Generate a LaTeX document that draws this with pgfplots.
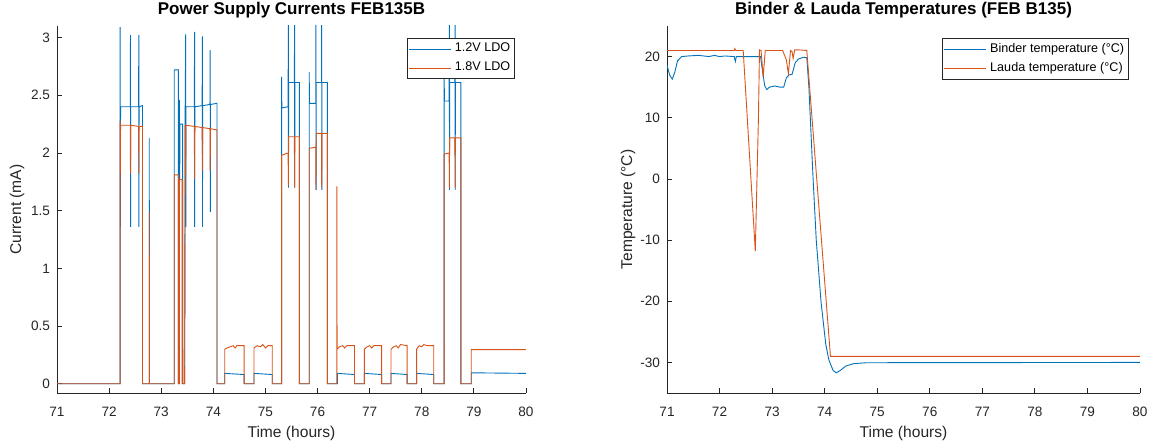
\documentclass[border=0pt]{standalone}
\usepackage{fontspec}
\setmainfont{Liberation Sans}
\usepackage{pgfplots}
\pgfplotsset{compat=1.18}
\definecolor{mblue}{HTML}{0072BD}
\definecolor{morange}{HTML}{D95319}
\definecolor{axgray}{HTML}{262626}

\pgfplotsset{
  mlab/.style={
    scale only axis,
    height=183.5pt,
    axis lines*=left,
    axis line style={axgray, line width=0.4pt},
    tick align=inside,
    major tick length=2.5pt,
    tick style={axgray, line width=0.4pt},
    xmin=71, xmax=80, xtick={71,...,80},
    tick label style={font=\fontsize{6.8}{8}\selectfont, text=axgray},
    xticklabel style={yshift=-3.5pt},
    /pgf/number format/assume math mode=true,
    label style={font=\fontsize{7.8}{9}\selectfont, text=axgray},
    every axis title shift=0pt,
    title style={font=\bfseries\fontsize{8.5}{10}\selectfont, text=black, at={(axis description cs:0.5,1.044)}, anchor=center},
    xlabel style={at={(axis description cs:0.5,-0.109)}, anchor=center},
    legend style={font=\fontsize{6.3}{7.5}\selectfont, draw=axgray, line width=0.4pt,
      anchor=north east, at={(0.977,0.967)}, inner sep=0.5pt, nodes={inner sep=1.8pt}},
    legend cell align=left,
    legend image code/.code={\draw[##1, line width=0.45pt] (0pt,0pt) -- (21pt,0pt);},
    xlabel={Time (hours)},
  }
}

\begin{document}
\begin{tikzpicture}
\useasboundingbox (0,0) rectangle (576pt,222.5pt);

% left: power supply currents
\begin{axis}[mlab, at={(28.5pt,26pt)}, anchor=south west, width=234.5pt,
  ymin=-0.08, ymax=3.1, ytick={0,0.5,1,1.5,2,2.5,3},
  ylabel={Current (mA)},
  ylabel style={at={(axis description cs:-0.085,0.5)}, anchor=center},
  title={Power Supply Currents FEB135B}]
\addplot[mblue, line width=0.45pt] coordinates {
(71,0) (72.21,0) (72.21,3.09) (72.215,1.36) (72.22,2.40) (72.405,2.40) (72.41,3.02) (72.412,1.36) (72.415,2.40)
(72.565,2.40) (72.57,3.02) (72.572,1.36) (72.575,2.40) (72.64,2.41) (72.64,0)
(72.77,0) (72.77,2.13) (72.775,0)
(73.25,0) (73.25,2.72) (73.33,2.72) (73.33,0) (73.35,0) (73.35,2.46) (73.355,1.75) (73.36,2.25) (73.41,2.25) (73.41,0)
(73.45,0) (73.46,2.40) (73.47,3.03) (73.472,1.36) (73.475,2.40)
(73.635,2.40) (73.64,3.05) (73.642,1.36) (73.645,2.40)
(73.785,2.41) (73.79,3.01) (73.792,1.36) (73.795,2.41)
(73.935,2.42) (73.94,2.89) (73.942,1.49) (73.945,2.42) (74.07,2.43) (74.07,0)
(74.22,0) (74.22,0.09) (74.59,0.08) (74.59,0)
(74.78,0) (74.78,0.09) (75.13,0.08) (75.13,0)
(75.31,0) (75.31,2.66) (75.315,2.39) (75.435,2.40) (75.44,3.3) (75.442,1.70) (75.445,2.61)
(75.555,2.61) (75.56,3.3) (75.562,1.70) (75.565,2.61) (75.65,2.61) (75.65,0)
(75.84,0) (75.84,2.70) (75.845,2.43) (75.965,2.43) (75.97,3.3) (75.972,1.68) (75.975,2.61)
(76.075,2.61) (76.08,3.3) (76.082,1.68) (76.085,2.61) (76.19,2.61) (76.19,0)
(76.38,0) (76.38,0.09) (76.71,0.08) (76.71,0)
(76.90,0) (76.90,0.09) (77.23,0.08) (77.23,0)
(77.41,0) (77.41,0.09) (77.72,0.08) (77.72,0)
(77.90,0) (77.90,0.09) (78.23,0.08) (78.23,0)
(78.43,0) (78.43,2.66) (78.435,2.45) (78.525,2.45) (78.53,3.3) (78.532,1.68) (78.535,2.61)
(78.635,2.61) (78.64,3.3) (78.642,1.68) (78.645,2.61) (78.75,2.61) (78.75,0)
(78.95,0) (78.95,0.095) (80,0.09)
};
\addlegendentry{1.2V LDO}
\addplot[morange, line width=0.45pt] coordinates {
(71,0) (72.21,0) (72.21,2.28) (72.215,1.82) (72.22,2.24) (72.405,2.24) (72.41,1.82) (72.415,2.24)
(72.565,2.23) (72.57,1.82) (72.575,2.23) (72.64,2.23) (72.64,0)
(72.77,0) (72.77,1.49) (72.775,0)
(73.25,0) (73.25,1.81) (73.33,1.81) (73.33,0) (73.34,0) (73.34,1.78) (73.345,0) (73.35,0) (73.35,1.77)
(73.40,1.77) (73.40,0) (73.41,0) (73.41,1.76) (73.415,0) (73.45,0) (73.46,2.24)
(73.465,2.24) (73.47,1.80) (73.475,2.24) (73.635,2.23) (73.64,1.78) (73.645,2.23)
(73.785,2.22) (73.79,1.85) (73.795,2.22) (73.935,2.21) (73.94,1.85) (73.945,2.21) (74.07,2.20) (74.07,0)
(74.22,0) (74.22,0.30) (74.26,0.31) (74.32,0.32) (74.38,0.33) (74.42,0.31) (74.45,0.33) (74.52,0.33) (74.59,0.33) (74.59,0)
(74.78,0) (74.78,0.31) (74.84,0.33) (74.90,0.32) (74.95,0.34) (75.00,0.31) (75.05,0.33) (75.13,0.33) (75.13,0)
(75.31,0) (75.31,1.98) (75.435,2.00) (75.44,1.72) (75.445,2.14) (75.555,2.14) (75.56,1.70) (75.565,2.14) (75.65,2.14) (75.65,0)
(75.84,0) (75.84,2.04) (75.965,2.05) (75.97,1.68) (75.975,2.17) (76.075,2.17) (76.08,1.70) (76.085,2.17) (76.19,2.17) (76.19,0)
(76.37,0) (76.37,1.71) (76.375,0.30) (76.42,0.32) (76.48,0.33) (76.52,0.31) (76.56,0.33) (76.71,0.33) (76.71,0)
(76.90,0) (76.90,0.30) (76.95,0.32) (77.00,0.33) (77.04,0.31) (77.08,0.33) (77.23,0.33) (77.23,0)
(77.41,0) (77.41,0.30) (77.46,0.32) (77.51,0.33) (77.55,0.31) (77.59,0.34) (77.72,0.33) (77.72,0)
(77.90,0) (77.90,0.30) (77.95,0.33) (78.00,0.32) (78.04,0.34) (78.10,0.33) (78.23,0.33) (78.23,0)
(78.43,0) (78.43,1.99) (78.525,2.00) (78.53,1.70) (78.535,2.13) (78.635,2.13) (78.64,1.70) (78.645,2.13) (78.75,2.13) (78.75,0)
(78.95,0) (78.95,0.296) (80,0.296)
};
\addlegendentry{1.8V LDO}
\end{axis}

% right: temperatures
\begin{axis}[mlab, at={(333.5pt,26pt)}, anchor=south west, width=236.5pt,
  ymin=-35, ymax=25, ytick={-30,-20,...,20},
  ylabel={Temperature (°C)},
  ylabel style={at={(axis description cs:-0.0825,0.5)}, anchor=center},
  title={Binder \& Lauda Temperatures (FEB B135)}]
\addplot[mblue, line width=0.45pt] coordinates {
(71.0,18.6) (71.05,17.0) (71.1,16.3) (71.15,17.5) (71.2,19.3) (71.28,20.0) (71.4,20.1) (71.6,20.2) (71.8,20.0)
(71.9,20.2) (72.0,20.0) (72.1,20.1) (72.28,20.0) (72.30,19.2) (72.32,20.0) (72.5,20.0) (72.78,20.0)
(72.82,17.5) (72.86,15.2) (72.90,14.6) (72.95,15.0) (73.05,15.2) (73.15,15.0) (73.22,15.0) (73.27,16.5)
(73.32,17.0) (73.38,17.1) (73.44,19.0) (73.5,19.6) (73.6,19.9) (73.66,19.8) (73.70,15) (73.78,0)
(73.84,-10) (73.93,-20) (74.02,-27) (74.08,-29.6) (74.16,-31.3) (74.22,-31.7) (74.30,-31.3) (74.40,-30.6)
(74.55,-30.2) (74.8,-30.05) (80,-30.0)
};
\addlegendentry{Binder temperature (°C)}
\addplot[morange, line width=0.45pt] coordinates {
(71,21) (72.28,21) (72.29,21.3) (72.31,21) (72.45,21) (72.68,-11.8) (72.74,10) (72.76,21.1) (72.79,21)
(72.83,16.7) (72.87,21) (73.2,21) (73.27,19.5) (73.31,17.2) (73.35,21) (73.38,20.8) (73.40,19.7)
(73.43,21.1) (73.5,21.1) (73.66,21) (74.11,-29) (80,-29)
};
\addlegendentry{Lauda temperature (°C)}
\end{axis}
\end{tikzpicture}
\end{document}
